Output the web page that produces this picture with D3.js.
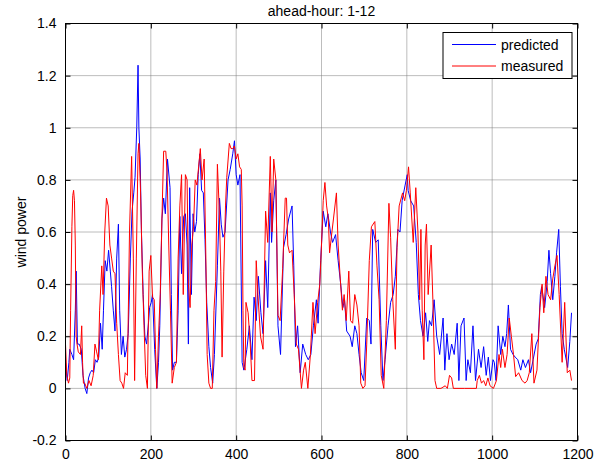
<!DOCTYPE html>
<html>
<head>
<meta charset="utf-8">
<script src="https://cdn.jsdelivr.net/npm/d3@7"></script>
<style>
body{margin:0;background:#fff;}
text{font-family:Arial,"Liberation Sans",sans-serif;font-size:14px;fill:#000;}
</style>
</head>
<body>
<svg id="chart" width="605" height="465"></svg>
<script>
const xTicks=[0,200,400,600,800,1000,1200];
const yTicks=[-0.2,0,0.2,0.4,0.6,0.8,1,1.2,1.4];
const seriesNames=["predicted","measured"];
const seriesColors=["#0000ff","#ff0000"];

// [hour, wind power]
const predicted=[
[0,0.1],[4,0.03],[8,0.1],[10,0.15],[15,0.13],[19,0.11],[23,0.3],[25,0.45],[28,0.17],[32,0.17],[37,0.15],[41,0.05],[46,0.0],[50,-0.02],[54,0.04],[58,0.06],[62,0.07],[66,0.06],[70,0.11],[74,0.1],[78,0.12],[82,0.25],[86,0.15],[89,0.3],[93,0.49],[97,0.45],[101,0.53],[105,0.45],[108,0.39],[112,0.3],[116,0.22],[120,0.5],[124,0.63],[127,0.3],[131,0.13],[135,0.2],[139,0.12],[143,0.15],[147,0.21],[152,0.5],[156,0.68],[160,0.75],[163,0.81],[167,1.0],[170,1.24],[172,1.0],[175,0.88],[178,0.6],[182,0.36],[186,0.2],[190,0.17],[195,0.26],[197,0.31],[201,0.33],[204,0.36],[209,0.15],[214,0.0],[218,0.1],[221,0.24],[226,0.65],[230,0.73],[234,0.67],[239,0.88],[245,0.77],[248,0.36],[251,0.07],[255,0.1],[260,0.1],[264,0.3],[268,0.66],[272,0.44],[277,0.66],[281,0.67],[285,0.55],[288,0.17],[291,0.77],[295,0.36],[299,0.67],[303,0.6],[307,0.64],[311,0.82],[315,0.9],[319,0.76],[323,0.75],[327,0.57],[331,0.33],[336,0.16],[340,0.08],[345,0.02],[349,0.13],[356,0.47],[361,0.73],[365,0.63],[369,0.58],[374,0.6],[381,0.8],[386,0.84],[392,0.9],[396,0.95],[400,0.82],[404,0.78],[409,0.82],[414,0.1],[418,0.07],[425,0.15],[431,0.24],[437,0.11],[442,0.35],[447,0.26],[452,0.43],[458,0.29],[463,0.21],[469,0.49],[474,0.31],[480,0.75],[483,0.56],[488,0.72],[493,0.8],[498,0.24],[504,0.13],[511,0.54],[517,0.59],[523,0.65],[531,0.7],[535,0.47],[539,0.16],[544,0.24],[550,0.06],[556,0.17],[563,0.13],[569,0.11],[575,0.13],[581,0.24],[588,0.34],[592,0.25],[598,0.49],[604,0.68],[610,0.62],[615,0.67],[621,0.6],[626,0.56],[633,0.59],[639,0.49],[645,0.4],[650,0.31],[654,0.34],[659,0.22],[667,0.2],[672,0.16],[678,0.24],[683,0.21],[688,0.13],[693,0.06],[699,0.03],[706,0.27],[712,0.26],[716,0.17],[720,0.61],[727,0.56],[733,0.57],[739,0.24],[744,0.03],[749,0.11],[756,0.24],[762,0.33],[768,0.36],[773,0.43],[779,0.61],[784,0.6],[789,0.72],[796,0.78],[801,0.82],[803,0.76],[809,0.72],[816,0.7],[822,0.56],[827,0.36],[832,0.26],[838,0.2],[844,0.29],[849,0.18],[853,0.26],[858,0.24],[864,0.34],[870,0.2],[877,0.13],[885,0.27],[889,0.07],[894,0.21],[899,0.11],[905,0.17],[911,0.13],[918,0.25],[922,0.03],[927,0.24],[934,0.27],[939,0.03],[943,0.11],[949,0.06],[955,0.24],[961,0.03],[968,0.15],[974,0.08],[980,0.16],[986,0.05],[991,0.12],[996,0.03],[1002,0.11],[1005,0.1],[1009,0.03],[1014,0.24],[1020,0.13],[1025,0.2],[1030,0.16],[1034,0.21],[1038,0.32],[1043,0.15],[1049,0.13],[1054,0.12],[1060,0.11],[1067,0.07],[1072,0.11],[1078,0.08],[1085,0.11],[1090,0.06],[1096,0.11],[1103,0.17],[1108,0.19],[1113,0.36],[1116,0.39],[1123,0.31],[1129,0.41],[1133,0.53],[1137,0.44],[1142,0.34],[1147,0.43],[1151,0.52],[1156,0.61],[1160,0.39],[1164,0.21],[1169,0.15],[1177,0.08],[1182,0.18],[1186,0.29]
];

const measured=[
[0,0.17],[3,0.05],[7,0.02],[10,0.04],[12,0.3],[15,0.62],[17,0.74],[19,0.76],[21,0.72],[23,0.55],[25,0.2],[27,0.17],[30,0.14],[35,0.13],[38,0.24],[40,0.1],[42,0.02],[45,0.02],[50,0.0],[55,0.03],[60,0.01],[65,0.05],[69,0.17],[73,0.14],[77,0.11],[80,0.3],[85,0.47],[88,0.36],[92,0.6],[96,0.73],[100,0.7],[104,0.55],[108,0.5],[112,0.45],[116,0.44],[120,0.25],[124,0.13],[128,0.03],[132,0.02],[136,0.0],[140,0.06],[145,0.05],[150,0.6],[155,0.89],[159,0.5],[162,0.03],[166,0.5],[170,0.9],[172,0.94],[176,0.75],[180,0.45],[184,0.24],[188,0.05],[192,0.0],[196,0.45],[200,0.51],[204,0.35],[208,0.34],[211,0.15],[214,0.0],[218,0.2],[222,0.36],[226,0.65],[230,0.91],[235,0.91],[238,0.83],[242,0.55],[246,0.3],[250,0.02],[255,0.08],[260,0.1],[264,0.5],[268,0.7],[272,0.82],[276,0.36],[281,0.82],[285,0.8],[288,0.4],[292,0.31],[296,0.55],[300,0.62],[304,0.8],[308,0.78],[312,0.85],[316,0.92],[320,0.8],[325,0.88],[329,0.5],[332,0.13],[336,0.02],[340,0.0],[344,0.0],[348,0.3],[352,0.41],[356,0.86],[360,0.7],[364,0.45],[367,0.12],[371,0.45],[375,0.7],[378,0.81],[384,0.94],[388,0.92],[392,0.92],[396,0.93],[400,0.88],[404,0.9],[408,0.85],[412,0.84],[414,0.7],[416,0.3],[418,0.08],[421,0.07],[423,0.33],[428,0.29],[433,0.17],[437,0.03],[443,0.03],[447,0.49],[451,0.36],[457,0.2],[463,0.15],[469,0.68],[474,0.56],[480,0.89],[484,0.6],[488,0.88],[493,0.8],[498,0.28],[503,0.26],[509,0.46],[515,0.73],[518,0.73],[521,0.55],[525,0.52],[531,0.53],[536,0.36],[541,0.17],[546,0.15],[553,0.0],[558,0.07],[562,0.1],[568,0.0],[574,0.13],[580,0.33],[585,0.21],[591,0.33],[596,0.4],[600,0.55],[604,0.72],[608,0.79],[612,0.7],[616,0.65],[619,0.52],[623,0.58],[628,0.65],[635,0.75],[639,0.55],[644,0.42],[649,0.3],[653,0.36],[658,0.26],[664,0.45],[668,0.26],[673,0.25],[678,0.36],[683,0.32],[688,0.24],[692,0.02],[697,0.0],[702,0.01],[706,0.17],[712,0.49],[717,0.62],[725,0.64],[730,0.47],[735,0.34],[740,0.05],[746,0.0],[752,0.26],[758,0.71],[762,0.58],[767,0.34],[773,0.15],[777,0.54],[782,0.7],[790,0.75],[795,0.72],[799,0.76],[804,0.85],[808,0.75],[815,0.56],[821,0.77],[826,0.6],[830,0.34],[833,0.61],[836,0.3],[840,0.11],[843,0.55],[846,0.63],[850,0.36],[857,0.55],[861,0.34],[866,0.03],[870,0.0],[880,0.0],[890,0.01],[895,0.0],[900,0.05],[905,0.04],[909,0.0],[935,0.0],[963,0.0],[965,0.03],[970,0.05],[975,0.02],[980,0.03],[985,0.01],[990,0.04],[995,0.01],[1003,0.0],[1010,0.03],[1016,0.13],[1020,0.08],[1024,0.15],[1030,0.08],[1035,0.13],[1040,0.27],[1045,0.2],[1050,0.13],[1055,0.045],[1062,0.06],[1070,0.03],[1077,0.02],[1082,0.03],[1087,0.06],[1093,0.21],[1098,0.02],[1105,0.07],[1112,0.31],[1117,0.4],[1121,0.29],[1126,0.43],[1131,0.36],[1137,0.34],[1142,0.42],[1147,0.47],[1152,0.51],[1157,0.36],[1164,0.1],[1170,0.33],[1176,0.06],[1182,0.07],[1186,0.03]
];

const svg=d3.select("#chart");
const margin={left:65.5,right:27.5,top:23.5,bottom:24.5};
const width=605-margin.left-margin.right;
const height=465-margin.top-margin.bottom;

const x=d3.scaleLinear().domain([0,1200]).range([0,width]);
const y=d3.scaleLinear().domain([-0.2,1.4]).range([height,0]);

const g=svg.append("g")
    .attr("transform",`translate(${margin.left},${margin.top})`);

// ---------- grid ----------

const grid=g.append("g").attr("class","grid");
grid.selectAll(".gx")
    .data(xTicks.slice(1,-1))
    .join("line")
    .attr("x1",d=>x(d)).attr("x2",d=>x(d))
    .attr("y1",0).attr("y2",height);
grid.selectAll(".gy")
    .data(yTicks.slice(1,-1))
    .join("line")
    .attr("class","gy")
    .attr("x1",0).attr("x2",width)
    .attr("y1",d=>y(d)).attr("y2",d=>y(d));
grid.selectAll("line")
    .attr("stroke","#7a7a7a")
    .attr("stroke-width",1)
    .attr("stroke-dasharray","1,1");

// ---------- axes ----------

// plain hyphen for negatives, like the original
const fmt=d=>d===0?"0":String(+d.toFixed(1));

g.append("g")
    .attr("transform",`translate(0,${height})`)
    .call(d3.axisBottom(x).tickValues(xTicks).tickFormat(fmt).tickSizeInner(-5).tickSizeOuter(0).tickPadding(9));
g.append("g")
    .call(d3.axisTop(x).tickValues(xTicks).tickFormat("").tickSizeInner(-5).tickSizeOuter(0));
g.append("g")
    .call(d3.axisLeft(y).tickValues(yTicks).tickFormat(fmt).tickSizeInner(-5).tickSizeOuter(0).tickPadding(9));
g.append("g")
    .attr("transform",`translate(${width},0)`)
    .call(d3.axisRight(y).tickValues(yTicks).tickFormat("").tickSizeInner(-5).tickSizeOuter(0));

g.selectAll(".domain").remove();
g.selectAll(".tick line").attr("stroke","#000");
g.selectAll(".tick text")
    .style("font-size","14px")
    .style("font-family","Arial,'Liberation Sans',sans-serif")
    .attr("fill","#000");

// ---------- lines ----------

const line=d3.line()
    .x(d=>x(d[0]))
    .y(d=>y(d[1]));

[predicted,measured].forEach((data,i)=>{
    g.append("path")
        .datum(data)
        .attr("fill","none")
        .attr("stroke",seriesColors[i])
        .attr("stroke-width",1)
        .attr("stroke-linejoin","round")
        .attr("d",line);
});

// box
g.append("rect")
    .attr("width",width)
    .attr("height",height)
    .attr("fill","none")
    .attr("stroke","#000")
    .attr("stroke-width",1);

// ---------- legend ----------

const legend=g.append("g")
    .attr("transform",`translate(${443-margin.left},${32.5-margin.top})`);
legend.append("rect")
    .attr("width",129)
    .attr("height",46)
    .attr("fill","#fff")
    .attr("stroke","#000")
    .attr("stroke-width",1);
seriesNames.forEach((name,i)=>{
    legend.append("line")
        .attr("x1",9).attr("x2",53)
        .attr("y1",12+i*21.5).attr("y2",12+i*21.5)
        .attr("stroke",seriesColors[i])
        .attr("stroke-width",1);
    legend.append("text")
        .attr("x",58)
        .attr("y",17+i*21.5)
        .text(name);
});

// ---------- labels ----------

svg.append("text")
    .attr("x",margin.left+width/2)
    .attr("y",16)
    .attr("text-anchor","middle")
    .text("ahead-hour: 1-12");

svg.append("text")
    .attr("transform",`translate(26,${margin.top+height/2}) rotate(-90)`)
    .attr("text-anchor","middle")
    .text("wind power");
</script>
</body>
</html>
